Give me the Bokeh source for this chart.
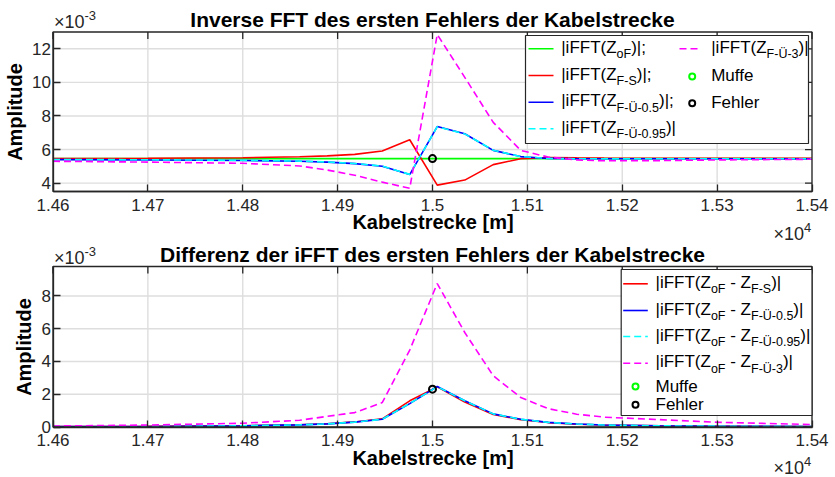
from bokeh.plotting import figure
from bokeh.models import Range1d, FixedTicker, Label
from bokeh.layouts import column
from bokeh.embed import file_html
from bokeh.resources import INLINE

# ---------------- data (x in m, amplitudes in 1e-3) ----------------
x_pos = [14600, 14700, 14800, 14860, 14889, 14918, 14947, 14976, 15005,
         15034, 15064, 15093, 15122, 15152, 15181, 15240, 15300, 15400]

top_oF = [5.46, 5.46, 5.46, 5.46, 5.46, 5.46, 5.46, 5.46, 5.46,
          5.46, 5.46, 5.46, 5.46, 5.46, 5.46, 5.46, 5.46, 5.46]
top_FS = [5.46, 5.48, 5.51, 5.57, 5.62, 5.71, 5.91, 6.58, 3.88,
          4.18, 5.10, 5.45, 5.52, 5.50, 5.49, 5.48, 5.48, 5.47]
top_FU05 = [5.40, 5.38, 5.35, 5.30, 5.25, 5.16, 5.00, 4.51, 7.37,
            6.94, 5.95, 5.58, 5.47, 5.45, 5.45, 5.45, 5.45, 5.45]
top_FU095 = [5.41, 5.39, 5.36, 5.31, 5.26, 5.17, 5.01, 4.52, 7.36,
             6.93, 5.96, 5.58, 5.47, 5.45, 5.45, 5.45, 5.45, 5.45]
top_FU3 = [5.30, 5.25, 5.18, 5.02, 4.78, 4.47, 4.06, 3.69, 12.85,
           10.30, 7.62, 5.95, 5.55, 5.38, 5.33, 5.34, 5.38, 5.42]

bot_FS = [0.03, 0.04, 0.08, 0.14, 0.20, 0.31, 0.50, 1.60, 2.45,
          1.52, 0.76, 0.45, 0.27, 0.17, 0.12, 0.07, 0.05, 0.03]
bot_FU05 = [0.02, 0.03, 0.07, 0.13, 0.19, 0.30, 0.47, 1.43, 2.47,
            1.60, 0.80, 0.47, 0.28, 0.18, 0.12, 0.07, 0.05, 0.03]
bot_FU095 = [0.02, 0.03, 0.07, 0.13, 0.19, 0.30, 0.47, 1.44, 2.46,
             1.60, 0.80, 0.47, 0.28, 0.18, 0.12, 0.07, 0.05, 0.03]
bot_FU3 = [0.06, 0.12, 0.23, 0.41, 0.65, 0.88, 1.49, 4.70, 8.76,
           5.77, 3.13, 1.80, 1.12, 0.78, 0.60, 0.45, 0.29, 0.15]

fault_x = [15000]
fault_top = [5.46]
fault_bot = [2.31]

x_ticks = [14600, 14700, 14800, 14900, 15000, 15100, 15200, 15300, 15400]
x_tick_labels = ["1.46", "1.47", "1.48", "1.49", "1.5", "1.51", "1.52", "1.53", "1.54"]
top_y_ticks = [4, 6, 8, 10, 12]
bot_y_ticks = [0, 2, 4, 6, 8]
X0, X1 = 14600, 15400
TOP_Y = (3.5, 13.0)
BOT_Y = (0.0, 9.8)

# ---------------- styling / layout ----------------
FONT = "Liberation Sans"
AX = "#262626"
GRID = "#dedede"
GREEN, RED, BLUE, CYAN, MAG = "#00ff00", "#ff0000", "#0000ff", "#00ffff", "#ff00ff"
DASH = "7 4"
LW = 1.6
MAIN, SUB = 17, 12.5
TICK = 7            # inward tick length, px
PAGE_LEFT = 0
CANVAS_W = 835
BOX_L, BOX_R = 52.5, 811.5   # axes box, page px

# Arial / Liberation Sans advance widths (per 1000 em)
W = {'|': 260, 'i': 222, 'F': 611, 'T': 611, '(': 333, 'Z': 611, 'o': 556, ')': 333,
     ';': 278, 'S': 667, '-': 333, 'Ü': 722, '0': 556, '.': 278, '5': 556, '9': 556,
     '3': 556, ' ': 278, 'M': 833, 'u': 556, 'f': 278, 'e': 556, 'h': 556, 'l': 222,
     'r': 333, '×': 584, '1': 556, '4': 556}


def tw(s, size):
    return sum(W.get(c, 556) for c in s) / 1000.0 * size


def style_axis(ax, ticks, overrides=None):
    ax.ticker = FixedTicker(ticks=ticks)
    ax.major_tick_in = TICK
    ax.major_tick_out = 0
    ax.minor_tick_line_color = None
    ax.major_tick_line_color = AX
    ax.major_tick_line_width = 1.3
    ax.axis_line_color = AX
    ax.axis_line_width = 1.3
    if overrides:
        ax.major_label_overrides = overrides
    ax.major_label_text_font = FONT
    ax.major_label_text_font_size = "17px"
    ax.major_label_text_color = AX
    ax.axis_label_text_font = FONT
    ax.axis_label_text_font_size = "20px"
    ax.axis_label_text_font_style = "bold"
    ax.axis_label_text_color = "#000000"


def add_text(p, fx, fy, X, Y, pieces, color="#000000", main=MAIN, sub=SUB,
             bold=False, align="left"):
    cur = X
    for txt, kind in pieces:
        if kind == "sub":
            size, yy = sub, Y + 7.0
        elif kind == "sup":
            size, yy = sub, Y - 6.5
        else:
            size, yy = main, Y
        stripped = txt.lstrip(" ")
        cur += tw(txt[:len(txt) - len(stripped)], size)
        p.add_layout(Label(x=fx(cur), y=fy(yy), text=stripped, text_font=FONT,
                           text_font_size=f"{size}px", text_color=color,
                           text_font_style="bold" if bold else "normal",
                           text_baseline="middle", text_align=align))
        cur += tw(stripped, size)


def make_fig(page_top, height, T, B, yr, yticks, title, title_y):
    """Frame covers the whole canvas; the axes box is drawn at fixed locations."""
    y0, y1 = yr
    kx = (X1 - X0) / (BOX_R - BOX_L)
    ky = (y1 - y0) / (B - T)
    xr = Range1d(X0 - (BOX_L - PAGE_LEFT) * kx, X1 + (PAGE_LEFT + CANVAS_W - BOX_R) * kx)
    yrng = Range1d(y0 - (page_top + height - B) * ky, y1 + (T - page_top) * ky)
    p = figure(width=CANVAS_W, height=height, x_range=xr, y_range=yrng,
               output_backend="svg", toolbar_location=None,
               min_border_left=0, min_border_right=0, min_border_top=0, min_border_bottom=0,
               background_fill_color="white", border_fill_color="white")
    p.outline_line_color = None
    p.title.visible = False
    p.xgrid.visible = False
    p.ygrid.visible = False

    def fx(X):
        return X0 + (X - BOX_L) * kx

    def fy(Y):
        return y1 - (Y - T) * ky

    xb = p.below[0]
    style_axis(xb, x_ticks, {t: l for t, l in zip(x_ticks, x_tick_labels)})
    xb.fixed_location = y0
    xb.bounds = (X0, X1)
    xb.axis_label = "Kabelstrecke [m]"
    xb.major_label_standoff = 7
    xb.axis_label_standoff = -3

    yl = p.left[0]
    style_axis(yl, yticks)
    yl.fixed_location = X0
    yl.bounds = (y0, y1)
    yl.axis_label = "Amplitude"
    yl.major_label_standoff = 2
    yl.axis_label_standoff = 4

    # grid lines inside the box
    p.segment(x0=x_ticks, y0=[y0] * len(x_ticks), x1=x_ticks, y1=[y1] * len(x_ticks),
              line_color=GRID, line_width=1.4)
    p.segment(x0=[X0] * len(yticks), y0=yticks, x1=[X1] * len(yticks), y1=yticks,
              line_color=GRID, line_width=1.4)

    add_text(p, fx, fy, (BOX_L + BOX_R) / 2, title_y, [(title, "n")], main=21,
             bold=True, align="center")
    return p, fx, fy, kx, ky


def box_and_ticks(p, yr, yticks, kx, ky):
    y0, y1 = yr
    p.quad(left=[X0], right=[X1], bottom=[y0], top=[y1], fill_color=None,
           line_color=AX, line_width=1.3)
    dy = TICK * ky
    dx = TICK * kx
    p.segment(x0=x_ticks, y0=[y1] * len(x_ticks), x1=x_ticks, y1=[y1 - dy] * len(x_ticks),
              line_color=AX, line_width=1.3)
    p.segment(x0=[X1] * len(yticks), y0=yticks, x1=[X1 - dx] * len(yticks), y1=yticks,
              line_color=AX, line_width=1.3)


def sample_line(p, fx, fy, Xa, Xb, Y, color, dash="solid"):
    p.line([fx(Xa), fx(Xb)], [fy(Y), fy(Y)], line_color=color, line_width=LW, line_dash=dash)


def sample_marker(p, fx, fy, X, Y, color):
    p.scatter([fx(X)], [fy(Y)], marker="circle", size=6, fill_color="white",
              line_color=color, line_width=2)


def legend_box(p, fx, fy, L, R, T, B):
    p.quad(left=[fx(L)], right=[fx(R)], top=[fy(T)], bottom=[fy(B)],
           fill_color="white", line_color=AX, line_width=1.2)


# ---------------- top figure (canvas rows 0..243) ----------------
p1, fx1, fy1, kx1, ky1 = make_fig(0, 243, 31.5, 191, TOP_Y, top_y_ticks,
                                  "Inverse FFT des ersten Fehlers der Kabelstrecke", 19.2)
for ys, col, dash in [(top_oF, GREEN, "solid"), (top_FS, RED, "solid"),
                      (top_FU05, BLUE, "solid"), (top_FU095, CYAN, DASH),
                      (top_FU3, MAG, DASH)]:
    p1.line(x_pos, ys, line_color=col, line_width=LW, line_dash=dash)
p1.scatter(fault_x, fault_top, marker="circle", size=7, fill_color=None,
           line_color="#000000", line_width=2)
box_and_ticks(p1, TOP_Y, top_y_ticks, kx1, ky1)

legend_box(p1, fx1, fy1, 525, 808, 35, 143)
rows1 = [48.3, 75.0, 101.7, 128.3]
col1 = [("solid", GREEN, [("|iFFT(Z", "n"), ("oF", "sub"), (")|;", "n")]),
        ("solid", RED, [("|iFFT(Z", "n"), ("F-S", "sub"), (")|;", "n")]),
        ("solid", BLUE, [("|iFFT(Z", "n"), ("F-Ü-0.5", "sub"), (")|;", "n")]),
        (DASH, CYAN, [("|iFFT(Z", "n"), ("F-Ü-0.95", "sub"), (")|", "n")])]
for Y, (dash, col, pieces) in zip(rows1, col1):
    sample_line(p1, fx1, fy1, 528, 553, Y, col, dash)
    add_text(p1, fx1, fy1, 560.7, Y - 1.5, pieces)
sample_line(p1, fx1, fy1, 679, 698, rows1[0], MAG, DASH)
add_text(p1, fx1, fy1, 710.7, rows1[0] - 1.5, [("|iFFT(Z", "n"), ("F-Ü-3", "sub"), (")|", "n")])
sample_marker(p1, fx1, fy1, 691.7, rows1[1] + 1, GREEN)
add_text(p1, fx1, fy1, 710.7, rows1[1], [("Muffe", "n")])
sample_marker(p1, fx1, fy1, 691.7, rows1[2] + 1, "#000000")
add_text(p1, fx1, fy1, 710.7, rows1[2], [("Fehler", "n")])
add_text(p1, fx1, fy1, 53.5, 21.7, [("×10", "n"), ("-3", "sup")], AX, 18, 13)
add_text(p1, fx1, fy1, 773, 233, [("×10", "n"), ("4", "sup")], AX, 18, 13)

# ---------------- bottom figure (canvas rows 243..477) ----------------
p2, fx2, fy2, kx2, ky2 = make_fig(243, 234, 266, 426.5, BOT_Y, bot_y_ticks,
                                  "Differenz der iFFT des ersten Fehlers der Kabelstrecke", 254.4)
for ys, col, dash in [(bot_FS, RED, "solid"), (bot_FU05, BLUE, "solid"),
                      (bot_FU095, CYAN, DASH), (bot_FU3, MAG, DASH)]:
    p2.line(x_pos, ys, line_color=col, line_width=LW, line_dash=dash)
p2.scatter(fault_x, fault_bot, marker="circle", size=7, fill_color=None,
           line_color="#000000", line_width=2)
box_and_ticks(p2, BOT_Y, bot_y_ticks, kx2, ky2)

legend_box(p2, fx2, fy2, 620.7, 811.5, 269, 415)
rows2 = [283.3, 310.0, 336.0, 362.7, 386.0, 404.3]
ent2 = [("solid", RED, "F-S"), ("solid", BLUE, "F-Ü-0.5"),
        (DASH, CYAN, "F-Ü-0.95"), (DASH, MAG, "F-Ü-3")]
for Y, (dash, col, sub) in zip(rows2[:4], ent2):
    sample_line(p2, fx2, fy2, 622.7, 647.3, Y, col, dash)
    add_text(p2, fx2, fy2, 655, Y - 1.5,
             [("|iFFT(Z", "n"), ("oF", "sub"), (" - Z", "n"), (sub, "sub"), (")|", "n")])
sample_marker(p2, fx2, fy2, 635, rows2[4], GREEN)
add_text(p2, fx2, fy2, 655, rows2[4], [("Muffe", "n")])
sample_marker(p2, fx2, fy2, 635, rows2[5], "#000000")
add_text(p2, fx2, fy2, 655, rows2[5], [("Fehler", "n")])
add_text(p2, fx2, fy2, 53.5, 257.3, [("×10", "n"), ("-3", "sup")], AX, 18, 13)
add_text(p2, fx2, fy2, 773, 467.5, [("×10", "n"), ("4", "sup")], AX, 18, 13)

layout = column(p1, p2)
open("out.html", "w").write(file_html(layout, INLINE))
